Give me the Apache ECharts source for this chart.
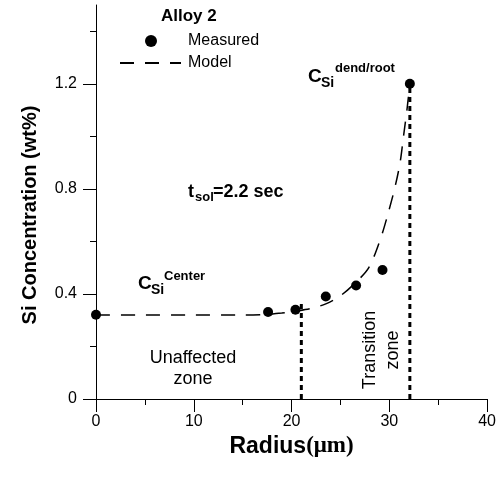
<!DOCTYPE html>
<html>
<head>
<meta charset="utf-8">
<script src="https://cdn.jsdelivr.net/npm/echarts@6/dist/echarts.min.js"></script>
<style>
  html, body { margin: 0; padding: 0; background: #fff; }
  #chart { width: 499px; height: 477px; }
</style>
</head>
<body>
<div id="chart"></div>
<script>
// measured points (radius in µm, Si in wt%)
const measuredRadius = [0, 17.6, 20.4, 23.5, 26.6, 29.3, 32.1]
const measuredSi = [0.321, 0.331, 0.34, 0.39, 0.432, 0.491, 1.2]

// model curve
const modelRadius = [0, 5, 10, 15, 17.5, 19, 20.5, 22, 23.5, 25, 26.6, 27.9, 29.1, 29.9, 30.6, 31.1, 31.45, 31.8, 32.1]
const modelSi = [0.32, 0.32, 0.32, 0.32, 0.322, 0.327, 0.335, 0.345, 0.362, 0.393, 0.445, 0.5, 0.61, 0.71, 0.81, 0.9, 1.0, 1.1, 1.2]

// zone boundaries (dotted verticals)
const boundaryRadius = [21.0, 32.1]
const boundaryTop = [0.365, 1.2]

// ticks
const xMajorTicks = [0, 10, 20, 30, 40]
const xMinorTicks = [5, 15, 25, 35]
const yMajorTicks = [0, 0.4, 0.8, 1.2]
const yMinorTicks = [0.2, 0.6, 1.0, 1.4]

const FONT = '"Liberation Sans", Arial, sans-serif'
const chart = echarts.init(document.getElementById('chart'), null, { renderer: 'canvas' })

const txt = (left, top, text, size, bold) => ({
  type: 'text',
  left,
  top,
  style: {
    text,
    fill: '#000',
    font: (bold ? 'bold ' : '') + size + 'px ' + FONT
  }
})

const option = {
  backgroundColor: '#fff',
  animation: false,
  grid: { left: 96, right: 8, top: 5, bottom: 78 },
  legend: [
    {
      data: ['Measured'],
      left: 145,
      top: 33,
      padding: 0,
      icon: 'circle',
      itemWidth: 12,
      itemHeight: 12,
      selectedMode: false,
      textStyle: { fontSize: 16, color: '#000', fontFamily: FONT, padding: [0, 0, 0, 26] }
    },
    {
      data: ['Model'],
      left: 119,
      top: 55,
      padding: 0,
      itemWidth: 61,
      itemHeight: 14,
      selectedMode: false,
      // hide the symbol the line legend icon adds in the middle
      itemStyle: { color: 'rgba(0,0,0,0)', borderWidth: 0, opacity: 0 },
      textStyle: { fontSize: 16, color: '#000', fontFamily: FONT, padding: [0, 0, 0, 2] }
    }
  ],
  xAxis: [
    {
      type: 'value',
      min: 0,
      max: 40,
      interval: 10,
      name: '{a|Radius}{b|(μm)}',
      nameLocation: 'middle',
      nameGap: 25,
      nameTextStyle: {
        rich: {
          a: { fontSize: 23, fontWeight: 'bold', fontFamily: FONT, color: '#000' },
          b: { fontSize: 23, fontWeight: 'bold', fontFamily: '"Liberation Serif", "Times New Roman", serif', color: '#000' }
        }
      },
      axisLine: { lineStyle: { color: '#000', width: 1 } },
      axisTick: { inside: false, length: 13, lineStyle: { color: '#000' }, customValues: xMajorTicks },
      axisLabel: { fontSize: 16, color: '#000', fontFamily: FONT, margin: 15, customValues: xMajorTicks },
      splitLine: { show: false }
    },
    {
      type: 'value',
      min: 0,
      max: 40,
      position: 'bottom',
      axisLine: { show: false },
      axisTick: { length: 6, lineStyle: { color: '#000' }, customValues: xMinorTicks },
      axisLabel: { show: false },
      splitLine: { show: false }
    }
  ],
  yAxis: [
    {
      type: 'value',
      min: 0,
      max: 1.5,
      name: 'Si Concentration (wt%)',
      nameLocation: 'middle',
      nameGap: 56,
      nameTextStyle: { fontSize: 20, fontWeight: 'bold', fontFamily: FONT, color: '#000', padding: [0, 26, 0, 0] },
      axisLine: { show: true, lineStyle: { color: '#000', width: 1 } },
      axisTick: { show: true, length: 13, lineStyle: { color: '#000' }, customValues: yMajorTicks },
      axisLabel: { fontSize: 16, color: '#000', fontFamily: FONT, margin: 19, customValues: yMajorTicks },
      splitLine: { show: false }
    },
    {
      type: 'value',
      min: 0,
      max: 1.5,
      position: 'left',
      axisLine: { show: false },
      axisTick: { show: true, length: 6, lineStyle: { color: '#000' }, customValues: yMinorTicks },
      axisLabel: { show: false },
      splitLine: { show: false }
    }
  ],
  series: [
    {
      name: 'Model',
      type: 'line',
      smooth: 0.3,
      symbol: 'none',
      z: 2,
      data: modelRadius.map((r, i) => [r, modelSi[i]]),
      lineStyle: { color: '#000', width: 1.5, type: [14, 11] },
      itemStyle: { color: '#000' }
    },
    ...boundaryRadius.map((r, i) => ({
      name: 'boundary' + i,
      type: 'line',
      symbol: 'none',
      z: 1,
      data: [[r, 0], [r, boundaryTop[i]]],
      lineStyle: { color: '#000', width: 3, type: [5, 4] }
    })),
    {
      name: 'Measured',
      type: 'scatter',
      symbol: 'circle',
      symbolSize: 10,
      z: 3,
      data: measuredRadius.map((r, i) => [r, measuredSi[i]]),
      itemStyle: { color: '#000', opacity: 1 }
    }
  ],
  graphic: [
    txt(161, 8, 'Alloy 2', 17, true),
    // C_Si^dend/root
    txt(308, 67, 'C', 19, true),
    txt(321, 76, 'Si', 14, true),
    txt(335, 62, 'dend/root', 13, true),
    // t_sol = 2.2 sec
    txt(188, 183, 't', 18, true),
    txt(195, 191, 'sol', 13, true),
    txt(213, 183, '=2.2 sec', 18, true),
    // C_Si^Center
    txt(138, 274, 'C', 19, true),
    txt(151, 283, 'Si', 14, true),
    txt(164, 270, 'Center', 13, true),
    // zones
    {
      type: 'text',
      x: 193,
      y: 348,
      style: { text: 'Unaffected\nzone', fill: '#000', font: '18px ' + FONT, align: 'center', lineHeight: 21 }
    },
    {
      type: 'text',
      x: 382,
      y: 350,
      rotation: Math.PI / 2,
      style: { text: 'Transition\nzone', fill: '#000', font: '18px ' + FONT, align: 'center', verticalAlign: 'middle', lineHeight: 23 }
    }
  ]
}

chart.setOption(option)
</script>
</body>
</html>
